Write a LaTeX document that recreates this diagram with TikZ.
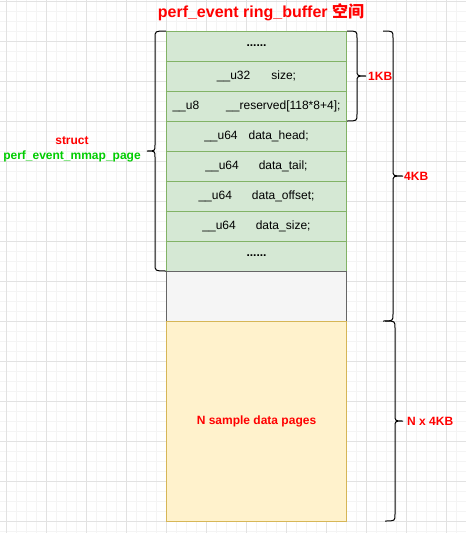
\documentclass[tikz,border=0pt]{standalone}
\usepackage{fontspec}
\setmainfont{Liberation Sans}
\newfontfamily\cjk{Noto Sans CJK SC}
\definecolor{gfill}{HTML}{D5E8D4}
\definecolor{gline}{HTML}{82B366}
\definecolor{hfill}{HTML}{F5F5F5}
\definecolor{hline}{HTML}{666666}
\definecolor{yfill}{HTML}{FFF2CC}
\definecolor{yline}{HTML}{D6B656}
\definecolor{red0}{HTML}{FF0000}
\definecolor{grn0}{HTML}{00CC00}
\definecolor{gridmaj}{HTML}{E2E2E2}
\definecolor{gridmin}{HTML}{F4F4F4}
\begin{document}
\begin{tikzpicture}[x=1pt,y=-1pt,
  cell/.style={draw=gline,fill=gfill,line width=1pt,minimum width=180pt,minimum height=30pt,inner sep=0pt,font=\fontsize{12}{14}\selectfont},
  brace/.style={draw=black,line width=1pt},
  lbl/.style={text=red0,font=\fontsize{12}{14}\selectfont\bfseries,inner sep=0pt}]
\useasboundingbox (0,0) rectangle (466,533);
\fill[white] (0,0) rectangle (466,533);
% grid
\foreach \i in {0,...,46} {\draw[gridmin,line width=1pt] (6+10*\i,0) -- (6+10*\i,533);}
\foreach \i in {0,...,53} {\draw[gridmin,line width=1pt] (0,1+10*\i) -- (466,1+10*\i);}
\foreach \i in {0,...,11} {\draw[gridmaj,line width=1pt] (6+40*\i,0) -- (6+40*\i,533);}
\foreach \i in {0,...,13} {\draw[gridmaj,line width=1pt] (0,1+40*\i) -- (466,1+40*\i);}
% title
\node[text=red0,font=\fontsize{16}{18}\selectfont\bfseries,inner sep=0pt] (title) at (261,12) {perf\_event ring\_buffer {\cjk\bfseries 空间}};
% cells
\node[cell,font=\fontsize{12}{14}\selectfont\bfseries] (c1) at (256.5,46) {......};
\node[cell] (c2) at (256.5,76) {\_\_u32\hspace{21pt}size;};
\node[cell] (c3) at (256.5,106) {\_\_u8\hspace{27pt}\_\_reserved[118*8+4];};
\node[cell] (c4) at (256.5,136) {\_\_u64\hspace{11pt}data\_head;};
\node[cell] (c5) at (256.5,166) {\_\_u64\hspace{20pt}data\_tail;};
\node[cell] (c6) at (256.5,196) {\_\_u64\hspace{20pt}data\_offset;};
\node[cell] (c7) at (256.5,226) {\_\_u64\hspace{20pt}data\_size;};
\node[cell,font=\fontsize{12}{14}\selectfont\bfseries] (c8) at (256.5,256) {......};
\node[draw=hline,fill=hfill,line width=1pt,minimum width=180pt,minimum height=50pt,inner sep=0pt] (gap) at (256.5,296) {};
\node[draw=yline,fill=yfill,line width=1pt,minimum width=180pt,minimum height=200pt,inner sep=0pt,lbl] (data) at (256.5,421) {N sample data pages};
% left brace
\draw[brace] (166,31) .. controls (155,31) .. (155,38) -- (155,145) .. controls (155,151) .. (147,151) .. controls (155,151) .. (155,157) -- (155,264) .. controls (155,271) .. (166,271);
\node[inner sep=0pt,font=\fontsize{12}{14}\selectfont\bfseries,align=center] (st) at (72,149) {\textcolor{red0}{struct}\\[1pt]\textcolor{grn0}{perf\_event\_mmap\_page}};
% 1KB brace
\draw[brace] (347,31) .. controls (357,31) .. (357,38) -- (357,70) .. controls (357,76) .. (366,76) .. controls (357,76) .. (357,82) -- (357,114) .. controls (357,121) .. (347,121);
\node[lbl,anchor=west] (k1) at (368,76) {1KB};
% 4KB brace
\draw[brace] (383,31) .. controls (393,31) .. (393,38) -- (393,170) .. controls (393,176) .. (403,176) .. controls (393,176) .. (393,182) -- (393,314) .. controls (393,321) .. (383,321);
\node[lbl,anchor=west] (k4) at (404,176) {4KB};
% N x 4KB brace
\draw[brace] (385,321) .. controls (395,321) .. (395,328) -- (395,415) .. controls (395,421) .. (403,421) .. controls (395,421) .. (395,427) -- (395,514) .. controls (395,521) .. (385,521);
\node[lbl,anchor=west] (kn) at (407,421) {N x 4KB};
\end{tikzpicture}
\end{document}
